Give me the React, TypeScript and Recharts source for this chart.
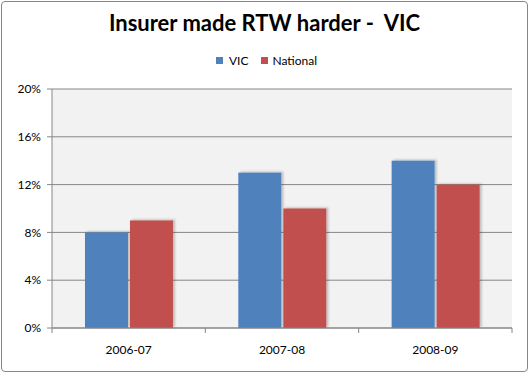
import React from "react"
import { BarChart, Bar, XAxis, YAxis, CartesianGrid } from "recharts"

// values (percent)
const categories = ["2006-07", "2007-08", "2008-09"]
const vicValues = [8, 13, 14]
const nationalValues = [9, 10, 12]
const yTicks = [0, 4, 8, 12, 16, 20]

const data = categories.map((period, i) => ({
  period,
  vic: vicValues[i],
  national: nationalValues[i],
}))

const W = 529
const H = 373
const FONT = "Lato, 'Liberation Sans', sans-serif"
const AXIS = "#868686"
const VIC_COLOR = "#4F81BD"
const NAT_COLOR = "#C0504D"

const margin = { top: 89, right: 17, left: 0, bottom: 0 }
const Y_WIDTH = 52

// x tick: label at band centre, tick mark at band boundaries (Excel style)
function CategoryTick(props: any) {
  const { x, y, payload, index } = props
  const plotW = W - margin.left - margin.right - Y_WIDTH
  const half = plotW / categories.length / 2
  return (
    <g>
      <line x1={x - half} x2={x - half} y1={y - 8} y2={y - 3} stroke={AXIS} />
      {index === categories.length - 1 && (
        <line x1={x + half} x2={x + half} y1={y - 8} y2={y - 3} stroke={AXIS} />
      )}
      <text x={x} y={y + 18} textAnchor="middle" fontSize={12} fontFamily={FONT} fill="#000">
        {payload.value}
      </text>
    </g>
  )
}

function ShadowBar(props: any) {
  const { x, y, width, height, fill } = props
  if (!height) return null
  return (
    <rect x={x} y={y} width={width} height={height} fill={fill} filter="url(#barShadow)" />
  )
}

const swatch = (color: string) => ({
  width: 7,
  height: 7,
  background: color,
  display: "inline-block",
})

export default function App() {
  return (
    <div style={{ position: "fixed", left: 0, top: 0, width: W, height: H, background: "#fff" }}>
      <div
        style={{
          position: "absolute",
          left: 1,
          top: 1,
          width: W - 4,
          height: H - 4,
          border: `1px solid ${AXIS}`,
          borderRadius: 4,
        }}
      />
      <div
        style={{
          position: "absolute",
          left: 0,
          top: 9,
          width: W,
          textAlign: "center",
          fontFamily: FONT,
          fontWeight: 700,
          fontSize: 22,
          color: "#000",
          whiteSpace: "pre",
        }}
      >
        {"Insurer made RTW harder -  VIC"}
      </div>
      <div
        style={{
          position: "absolute",
          left: 2,
          top: 53,
          width: W,
          display: "flex",
          justifyContent: "center",
          alignItems: "center",
          fontFamily: FONT,
          fontSize: 12,
          color: "#000",
        }}
      >
        <span style={swatch(VIC_COLOR)} />
        <span style={{ marginLeft: 6, marginRight: 13 }}>VIC</span>
        <span style={swatch(NAT_COLOR)} />
        <span style={{ marginLeft: 4 }}>National</span>
      </div>
      <div style={{ position: "absolute", left: 0, top: 0 }}>
        <BarChart
          width={W}
          height={H}
          data={data}
          margin={margin}
          barCategoryGap="21.5%"
          barGap={2}
        >
          <defs>
            <filter id="barShadow" x="-20%" y="-20%" width="140%" height="140%">
              <feDropShadow dx={2} dy={-1} stdDeviation={1.2} floodColor="#000" floodOpacity={0.22} />
            </filter>
          </defs>
          <CartesianGrid vertical={false} stroke={AXIS} fill="#F2F2F2" />
          <XAxis
            dataKey="period"
            height={45}
            axisLine={{ stroke: AXIS }}
            tickLine={false}
            tick={<CategoryTick />}
            interval={0}
          />
          <YAxis
            width={Y_WIDTH}
            domain={[0, 20]}
            ticks={yTicks}
            interval={0}
            tickFormatter={(v: number) => `${v}%`}
            axisLine={{ stroke: AXIS }}
            tickLine={{ stroke: AXIS }}
            tickSize={5}
            tick={{ fontSize: 12, fontFamily: FONT, fill: "#000", dx: -4 }}
          />
          <Bar dataKey="vic" name="VIC" fill={VIC_COLOR} shape={<ShadowBar />} isAnimationActive={false} />
          <Bar dataKey="national" name="National" fill={NAT_COLOR} shape={<ShadowBar />} isAnimationActive={false} />
        </BarChart>
      </div>
    </div>
  )
}
